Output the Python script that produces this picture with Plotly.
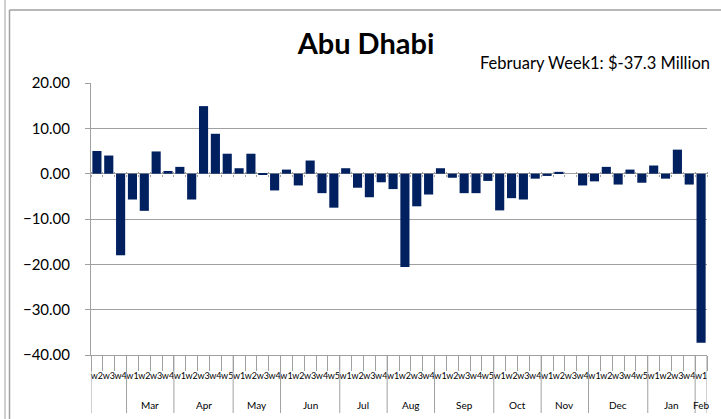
import plotly.graph_objects as go

# ---- data ----
month_labels = ["", "", "",
                "Mar", "Mar", "Mar", "Mar",
                "Apr", "Apr", "Apr", "Apr", "Apr",
                "May", "May", "May", "May",
                "Jun", "Jun", "Jun", "Jun", "Jun",
                "Jul", "Jul", "Jul", "Jul",
                "Aug", "Aug", "Aug", "Aug",
                "Sep", "Sep", "Sep", "Sep", "Sep",
                "Oct", "Oct", "Oct", "Oct",
                "Nov", "Nov", "Nov", "Nov",
                "Dec", "Dec", "Dec", "Dec", "Dec",
                "Jan", "Jan", "Jan", "Jan",
                "Feb"]
week_labels = ["w2", "w3", "w4",
               "w1", "w2", "w3", "w4",
               "w1", "w2", "w3", "w4", "w5",
               "w1", "w2", "w3", "w4",
               "w1", "w2", "w3", "w4", "w5",
               "w1", "w2", "w3", "w4",
               "w1", "w2", "w3", "w4",
               "w1", "w2", "w3", "w4", "w5",
               "w1", "w2", "w3", "w4",
               "w1", "w2", "w3", "w4",
               "w1", "w2", "w3", "w4", "w5",
               "w1", "w2", "w3", "w4",
               "w1"]
values = [5.0, 4.0, -18.0,
          -5.7, -8.2, 4.9, 0.6,
          1.5, -5.7, 14.9, 8.8, 4.4,
          1.2, 4.4, -0.1, -3.7,
          0.9, -2.6, 2.9, -4.3, -7.5,
          1.2, -3.1, -5.2, -1.9,
          -3.4, -20.6, -7.2, -4.6,
          1.2, -0.9, -4.3, -4.3, -1.6,
          -8.1, -5.4, -5.7, -1.1,
          -0.5, 0.4, 0.0, -2.6,
          -1.7, 1.5, -2.4, 0.9, -2.0,
          1.8, -1.1, 5.3, -2.4,
          -37.3]
title_text = "Abu Dhabi"
subtitle_text = "February Week1: $-37.3 Million"
y_min, y_max, y_step = -40, 20, 10

# ---- layout constants ----
W, H = 721, 419
ML, MR, MT, MB = 91, 14, 83, 64
PW, PH = W - ML - MR, H - MT - MB
GRAY = "#A0A0A0"
BAR = "#002060"
FONT = "Lato, 'Open Sans', sans-serif"


def px_x(px):
    return (px - ML) / PW


def px_y(py):
    return 1 - (py - MT) / PH


n = len(values)
x_idx = list(range(n))
x_range = [-0.5, n - 0.5]
boundaries = [i - 0.5 for i in range(n + 1)]
zero_pos = (0 - y_min) / (y_max - y_min)

# month groups (start, end) from the month label list
groups = []
start = 0
for i in range(1, n + 1):
    if i == n or month_labels[i] != month_labels[start]:
        groups.append((month_labels[start], start, i - 1))
        start = i

fig = go.Figure()
fig.add_trace(go.Bar(x=x_idx, y=values, marker=dict(color=BAR, line=dict(width=0)),
                     hoverinfo="skip"))
# invisible helpers carrying the zero-line tick axes
for ax in ("x2", "x3"):
    fig.add_trace(go.Scatter(x=x_idx, y=[0] * n, xaxis=ax, yaxis="y", mode="markers",
                             marker=dict(opacity=0), hoverinfo="skip"))

fig.update_layout(
    width=W, height=H,
    margin=dict(l=ML, r=MR, t=MT, b=MB, pad=0),
    paper_bgcolor="white", plot_bgcolor="white",
    showlegend=False,
    bargap=0.23,
    font=dict(family=FONT, color="black"),
    title=dict(text="<b>" + title_text + "</b>", x=366 / W, xref="container",
               xanchor="center", y=1 - 44 / H, yref="container", yanchor="middle",
               font=dict(size=29, family=FONT, color="black")),
    xaxis=dict(range=x_range, tickmode="array", tickvals=x_idx, ticktext=week_labels,
               showline=True, linecolor=GRAY, linewidth=1,
               ticks="outside", ticklen=12, tickcolor="rgba(0,0,0,0)",
               minor=dict(tickmode="array", tickvals=boundaries, ticks="outside",
                          ticklen=15, tickcolor=GRAY, tickwidth=1, showgrid=False),
               showgrid=False, zeroline=False, tickangle=0,
               tickfont=dict(size=9, family=FONT, color="black"),
               automargin=False, fixedrange=True),
    xaxis2=dict(range=x_range, overlaying="x", anchor="free", position=zero_pos,
                side="bottom", showline=False, tickmode="array", tickvals=boundaries,
                ticks="outside", ticklen=2, tickcolor=GRAY, showticklabels=False,
                showgrid=False, zeroline=False, automargin=False, fixedrange=True),
    xaxis3=dict(range=x_range, overlaying="x", anchor="free", position=zero_pos,
                side="top", showline=False, tickmode="array", tickvals=boundaries,
                ticks="outside", ticklen=2, tickcolor=GRAY, showticklabels=False,
                showgrid=False, zeroline=False, automargin=False, fixedrange=True),
    yaxis=dict(range=[y_min, y_max], dtick=y_step, tick0=0, tickformat=".2f",
               showline=True, linecolor=GRAY, linewidth=1, ticks="outside",
               ticklen=5, tickcolor=GRAY, showgrid=True, gridcolor=GRAY, gridwidth=1,
               zeroline=True, zerolinecolor=GRAY, zerolinewidth=1,
               ticklabelstandoff=12,
               tickfont=dict(size=15, family=FONT, color="black"),
               automargin=False, fixedrange=True),
)

# month labels and group dividers
for label, s, e in groups:
    if label:
        fig.add_annotation(text=label, xref="x", yref="paper", x=(s + e) / 2,
                           y=px_y(405), xanchor="center", yanchor="middle",
                           showarrow=False, font=dict(size=10, family=FONT, color="black"))
    fig.add_shape(type="line", xref="x", yref="paper", x0=s - 0.5, x1=s - 0.5,
                  y0=0, y1=px_y(413), line=dict(color=GRAY, width=1))
fig.add_shape(type="line", xref="x", yref="paper", x0=n - 0.5, x1=n - 0.5,
              y0=0, y1=px_y(413), line=dict(color=GRAY, width=1))

fig.add_annotation(text=subtitle_text, xref="paper", yref="paper",
                   x=px_x(712), y=px_y(63), xanchor="right", yanchor="middle",
                   showarrow=False, font=dict(size=16.5, family=FONT, color="black"))

# chart frame lines
fig.add_shape(type="line", xref="paper", yref="paper", x0=px_x(5), x1=px_x(5),
              y0=px_y(0), y1=px_y(H), line=dict(color=GRAY, width=1))
fig.add_shape(type="line", xref="paper", yref="paper", x0=px_x(9.5), x1=px_x(9.5),
              y0=px_y(10), y1=px_y(H), line=dict(color=GRAY, width=1.5))
fig.add_shape(type="line", xref="paper", yref="paper", x0=px_x(9.5), x1=px_x(W),
              y0=px_y(10), y1=px_y(10), line=dict(color=GRAY, width=1.5))

fig.write_html("out.html", config={"displayModeBar": False},
               post_script="document.body.style.margin='0';")
